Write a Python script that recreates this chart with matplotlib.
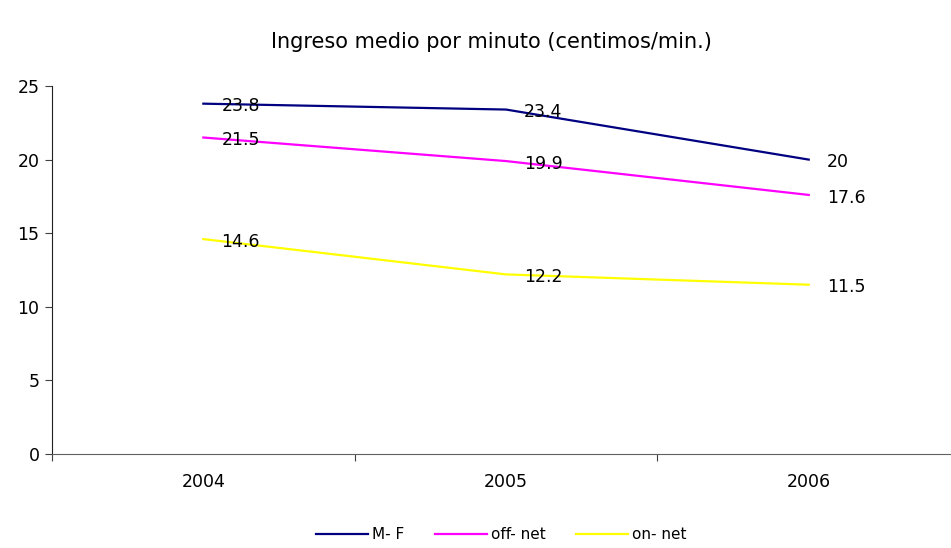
import matplotlib.pyplot as plt

years = ["2004", "2005", "2006"]
mf = [23.8, 23.4, 20.0]
off_net = [21.5, 19.9, 17.6]
on_net = [14.6, 12.2, 11.5]
labels_mf = ["23.8", "23.4", "20"]
labels_off = ["21.5", "19.9", "17.6"]
labels_on = ["14.6", "12.2", "11.5"]

plt.rcParams['font.family'] = ['DejaVu Sans']

fig = plt.figure(figsize=(9.51, 5.48), dpi=100)
ax = fig.add_axes([52 / 951, 94 / 548, 1 - 52 / 951, 368 / 548])

x = list(range(len(years)))
series = [
    (mf, labels_mf, "#000080", "M- F"),
    (off_net, labels_off, "#FF00FF", "off- net"),
    (on_net, labels_on, "#FFFF00", "on- net"),
]
for vals, labs, col, name in series:
    ax.plot(x, vals, color=col, lw=1.6, label=name)
    for xi, v, t in zip(x, vals, labs):
        ax.annotate(t, (xi, v), xytext=(13, -2), textcoords="offset points",
                    ha="left", va="center", fontsize=12.5, color="black")

ax.set_xlim(-0.5, 2.47)
ax.set_ylim(0, 25)
ax.set_yticks([0, 5, 10, 15, 20, 25])
ax.set_xticks([-0.5, 0.5, 1.5], minor=False)
ax.set_xticklabels([])
ax.set_xticks(x, minor=True)
ax.set_xticklabels(years, minor=True)
ax.tick_params(axis="x", which="minor", length=0, pad=14, labelsize=12.5)
ax.tick_params(axis="x", which="major", length=5, color="#404040")
ax.tick_params(axis="y", length=5, labelsize=12.5, color="#404040", pad=4)

for s in ["top", "right"]:
    ax.spines[s].set_visible(False)
ax.spines["left"].set_color("#202020")
ax.spines["bottom"].set_color("#606060")

fig.text(0.517, 0.923, "Ingreso medio por minuto (centimos/min.)",
         ha="center", va="center", fontsize=15)

fig.legend(loc="center", bbox_to_anchor=(0.527, 0.024), ncol=3, frameon=False,
           fontsize=11, handlelength=3.4, handletextpad=0.25, columnspacing=2.0)

plt.savefig("out.png", dpi=100)
